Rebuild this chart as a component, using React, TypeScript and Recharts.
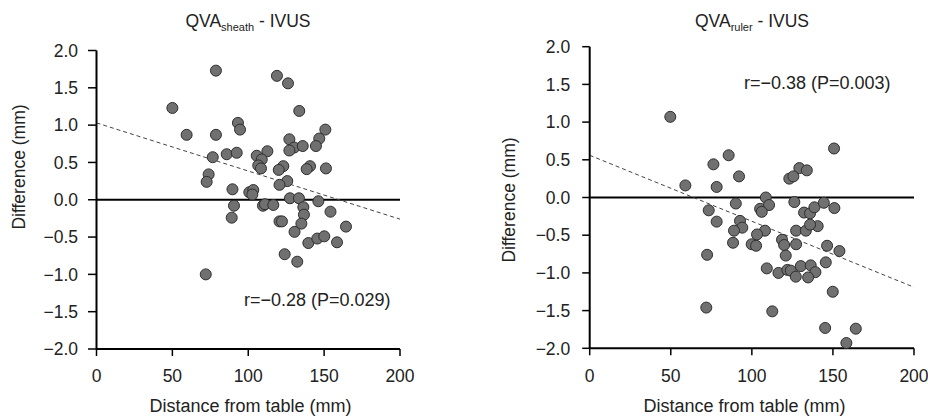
import React from 'react';
import { ScatterChart, Scatter, XAxis, YAxis, ReferenceLine } from 'recharts';

const sheathDistance = [78.7, 118.9, 126.2, 50.0, 133.6, 93.2, 94.6, 59.4, 78.7, 150.8, 146.8, 127.1, 130.3, 127.1, 135.9, 144.6, 112.6, 85.8, 92.4, 76.6, 105.6, 108.9, 106.6, 108.4, 123.1, 120.1, 140.7, 138.5, 151.2, 73.9, 72.6, 125.7, 120.6, 89.6, 100.7, 103.3, 102.7, 127.5, 133.4, 146.2, 90.6, 109.7, 111.0, 116.5, 136.3, 136.7, 154.2, 89.1, 120.6, 122.2, 135.0, 130.5, 164.4, 139.6, 145.5, 150.1, 158.5, 124.0, 132.3, 72.0];
const sheathDiff = [1.73, 1.66, 1.56, 1.23, 1.19, 1.03, 0.94, 0.87, 0.87, 0.94, 0.82, 0.81, 0.70, 0.66, 0.72, 0.72, 0.65, 0.61, 0.63, 0.57, 0.59, 0.54, 0.46, 0.42, 0.45, 0.40, 0.45, 0.41, 0.42, 0.34, 0.24, 0.25, 0.20, 0.14, 0.10, 0.13, 0.07, 0.02, 0.02, -0.02, -0.08, -0.08, -0.06, -0.07, -0.10, -0.20, -0.16, -0.24, -0.29, -0.29, -0.32, -0.43, -0.36, -0.58, -0.52, -0.49, -0.57, -0.73, -0.83, -1.00];

const rulerDistance = [49.7, 150.7, 85.7, 76.3, 129.3, 133.9, 92.1, 123.1, 125.6, 59.0, 78.3, 108.6, 90.1, 105.1, 110.6, 106.1, 126.2, 73.4, 132.2, 135.9, 138.6, 144.4, 150.9, 78.3, 92.7, 94.1, 89.0, 108.1, 103.2, 127.3, 133.3, 140.6, 135.9, 88.4, 99.9, 102.6, 118.6, 119.9, 127.3, 146.4, 154.0, 120.9, 72.4, 145.6, 109.2, 116.4, 121.9, 124.0, 127.1, 130.2, 136.3, 139.2, 134.7, 149.9, 71.9, 112.6, 145.2, 164.1, 158.3];
const rulerDiff = [1.07, 0.65, 0.56, 0.44, 0.39, 0.36, 0.28, 0.25, 0.28, 0.16, 0.14, 0.0, -0.08, -0.15, -0.10, -0.19, -0.06, -0.17, -0.20, -0.21, -0.13, -0.07, -0.14, -0.32, -0.31, -0.40, -0.44, -0.44, -0.49, -0.44, -0.44, -0.38, -0.36, -0.60, -0.62, -0.64, -0.56, -0.63, -0.62, -0.64, -0.71, -0.77, -0.76, -0.86, -0.94, -1.00, -0.96, -0.97, -1.05, -0.91, -0.90, -0.99, -1.06, -1.25, -1.46, -1.51, -1.73, -1.74, -1.93];

const xTicks = [0, 50, 100, 150, 200];
const yTicks = [-2, -1.5, -1, -0.5, 0, 0.5, 1, 1.5, 2];
const sheathFit = [{ x: 0, y: 1.03 }, { x: 200, y: -0.26 }];
const rulerFit = [{ x: 0, y: 0.56 }, { x: 200, y: -1.19 }];
const sheathStat = 'r=\u22120.28 (P=0.029)';
const rulerStat = 'r=\u22120.38 (P=0.003)';

const sheathData = sheathDistance.map((x, i) => ({ x, y: sheathDiff[i] }));
const rulerData = rulerDistance.map((x, i) => ({ x, y: rulerDiff[i] }));

const FONT = '"Liberation Sans", Arial, Helvetica, sans-serif';
const fmtY = (v: number) => (v < 0 ? '\u2212' : '') + Math.abs(v).toFixed(1);

const Dot = (props: any) => {
  const { cx, cy } = props;
  if (cx == null || cy == null) return null;
  return <circle cx={cx} cy={cy} r={5.5} fill="#707070" stroke="#2e2e2e" strokeWidth={1} />;
};

type PanelProps = {
  data: { x: number; y: number }[];
  fit: { x: number; y: number }[];
  margin: { top: number; right: number; bottom: number; left: number };
  yTickMargin: number;
  yTickSize: number;
};

const Panel = ({ data, fit, margin, yTickMargin, yTickSize }: PanelProps) => (
  <ScatterChart width={464} height={417} margin={margin} style={{ fontFamily: FONT }}>
    <XAxis
      type="number"
      dataKey="x"
      domain={[0, 200]}
      ticks={xTicks}
      height={40}
      tickSize={7}
      tickMargin={14}
      axisLine={{ stroke: '#000', strokeWidth: 2 }}
      tickLine={{ stroke: '#000', strokeWidth: 1.5 }}
      tick={{ fontSize: 17.5, fill: '#222', fontFamily: FONT }}
      interval={0}
    />
    <YAxis
      type="number"
      dataKey="y"
      domain={[-2, 2]}
      ticks={yTicks}
      width={50}
      tickSize={yTickSize}
      tickMargin={yTickMargin}
      tickFormatter={fmtY}
      axisLine={{ stroke: '#000', strokeWidth: 2 }}
      tickLine={{ stroke: '#000', strokeWidth: 1.5 }}
      tick={{ fontSize: 17.5, fill: '#222', fontFamily: FONT }}
      interval={0}
    />
    <ReferenceLine y={0} stroke="#000" strokeWidth={2} />
    <ReferenceLine segment={fit} stroke="#444" strokeWidth={1} strokeDasharray="4 3" />
    <Scatter data={data} shape={<Dot />} isAnimationActive={false} />
  </ScatterChart>
);

const txt: React.CSSProperties = { position: 'absolute', fontFamily: FONT, color: '#222', whiteSpace: 'nowrap', lineHeight: 1 };

export default function App() {
  return (
    <div style={{ position: 'absolute', left: 0, top: 0, width: 928, height: 417, background: '#fff', overflow: 'hidden' }}>
      <div style={{ position: 'absolute', left: 0, top: 0 }}>
        <Panel data={sheathData} fit={sheathFit} margin={{ top: 50.5, right: 64, bottom: 28, left: 46.5 }} yTickMargin={10} yTickSize={8.5} />
      </div>
      <div style={{ position: 'absolute', left: 464, top: 0 }}>
        <Panel data={rulerData} fit={rulerFit} margin={{ top: 46.7, right: 14, bottom: 28.7, left: 75.7 }} yTickMargin={12} yTickSize={7.5} />
      </div>

      <div style={{ ...txt, left: 148, width: 200, textAlign: 'center', top: 13, fontSize: 17.5 }}>
        QVA<sub style={{ fontSize: 11, verticalAlign: 'baseline', position: 'relative', top: 4 }}>sheath</sub> - IVUS
      </div>
      <div style={{ ...txt, left: 652, width: 200, textAlign: 'center', top: 13, fontSize: 17.5 }}>
        QVA<sub style={{ fontSize: 11, verticalAlign: 'baseline', position: 'relative', top: 4 }}>ruler</sub> - IVUS
      </div>

      <div style={{ ...txt, left: 20, top: 167, fontSize: 17.5, transform: 'translate(-50%, -50%) rotate(-90deg)' }}>Difference (mm)</div>
      <div style={{ ...txt, left: 510, top: 200, fontSize: 17.5, transform: 'translate(-50%, -50%) rotate(-90deg)' }}>Difference (mm)</div>

      <div style={{ ...txt, left: 149.5, width: 200, textAlign: 'center', top: 397, fontSize: 18 }}>Distance from table (mm)</div>
      <div style={{ ...txt, left: 643.5, width: 200, textAlign: 'center', top: 397, fontSize: 18 }}>Distance from table (mm)</div>

      <div style={{ ...txt, left: 244, top: 291, fontSize: 18 }}>{sheathStat}</div>
      <div style={{ ...txt, left: 744, top: 74, fontSize: 18 }}>{rulerStat}</div>
    </div>
  );
}
